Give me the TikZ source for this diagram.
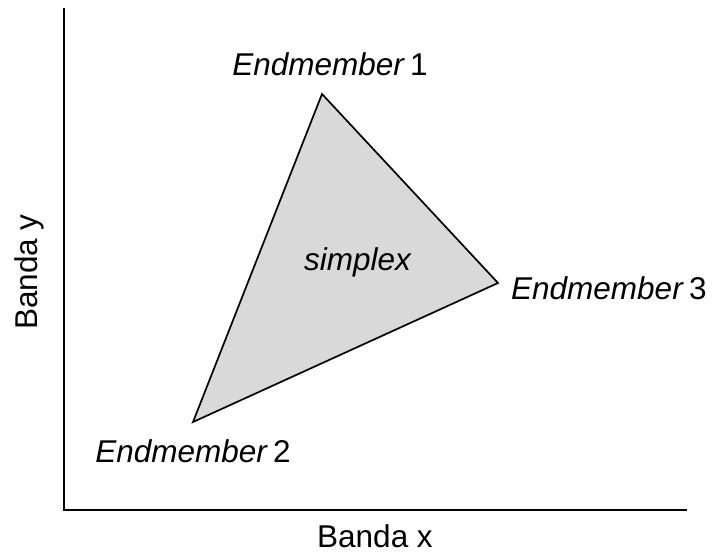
\documentclass[tikz,border=0pt]{standalone}
\usepackage{fontspec}
\setmainfont{Liberation Sans}
\usetikzlibrary{positioning}
\definecolor{simplexgray}{RGB}{217,217,217}
\tikzset{
    % axis lines
    axisline/.style={line width=1.8pt, black},
    % the simplex triangle
    simplexface/.style={draw=black, fill=simplexgray, line width=1.7pt, line join=miter},
    % labels
    emlabel/.style={font=\fontsize{31.5}{34}\selectfont, inner sep=0pt},
    axislabel/.style={font=\fontsize{31.5}{34}\selectfont, inner sep=0pt},
}
\newcommand{\emname}[1]{\textit{Endmember}\,#1}

\begin{document}
\begin{tikzpicture}[x=1pt,y=-1pt]
      \useasboundingbox (0,0) rectangle (713,553);
      % axes
      \coordinate (origin) at (64,510);
      \coordinate (ytop) at (64,8);
      \coordinate (xend) at (687,510);
      \draw[axisline] (ytop) -- (origin) -- (xend);
      % vertices of the simplex
      \coordinate (em1) at (322,94);
      \coordinate (em2) at (193,422);
      \coordinate (em3) at (498,283);
      \draw[simplexface] (em1) -- (em3) -- (em2) -- cycle;
      \node[emlabel] (lab1) at (330,64) {\emname{1}};
      \node[emlabel,anchor=west] (lab3) at (511,288) {\emname{3}};
      \node[emlabel] (lab2) at (193,451) {\emname{2}};
      \node[emlabel] (simp) at (358,262) {\textit{simplex}};
      \node[axislabel] (bx) at (375,536) {Banda x};
      \node[axislabel,rotate=90] (by) at (29,272) {Banda y};
    \end{tikzpicture}
\end{document}
